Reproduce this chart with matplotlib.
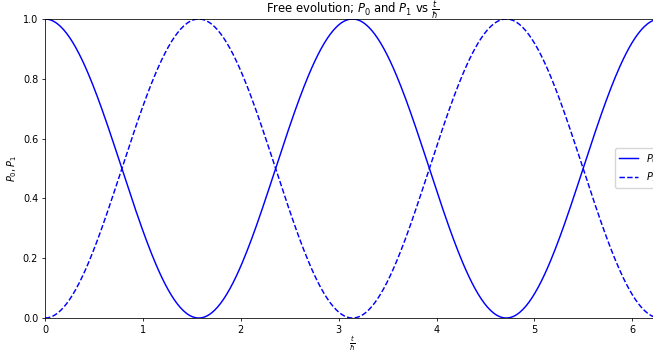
import numpy as np
import matplotlib
matplotlib.use("Agg")
import matplotlib.pyplot as plt

# Time axis in units of t/hbar and the free-evolution frequency
t_start, t_stop, n_samples = 0.0, 2 * np.pi, 400
omega = 1.0
t = np.linspace(t_start, t_stop, n_samples)

# Occupation probabilities of the two levels
P0 = np.cos(omega * t) ** 2
P1 = np.sin(omega * t) ** 2

series_labels = [r"$P_0$", r"$P_1$"]
title_text = r"Free evolution; $P_0$ and $P_1$ vs $\frac{t}{\hbar}$"
xlabel_text = r"$\frac{t}{\hbar}$"
ylabel_text = r"$P_0, P_1$"

s = 0.7  # overall scale of text and line weights
plt.rcParams.update({
    "font.size": 10 * s,
    "axes.linewidth": 0.8 * s,
    "xtick.major.size": 3.5 * s,
    "ytick.major.size": 3.5 * s,
    "xtick.major.width": 0.8 * s,
    "ytick.major.width": 0.8 * s,
    "xtick.major.pad": 3.5 * s,
    "ytick.major.pad": 3.5 * s,
    "legend.fontsize": 10 * s,
})

W, H = 653, 352
fig = plt.figure(figsize=(W / 100, H / 100), dpi=100)
ax = fig.add_axes([45 / W, 1 - 318 / H, (660 - 45) / W, (318 - 19) / H])

ax.plot(t, P0, "b-", lw=1.5 * s, label=series_labels[0])
ax.plot(t, P1, "b--", lw=1.5 * s, label=series_labels[1])

ax.set_xlim(t_start, t_stop)
ax.set_ylim(0, 1)
ax.set_xlabel(xlabel_text, labelpad=0)
ax.set_ylabel(ylabel_text, labelpad=4 * s)

# Title placed on a fixed baseline just above the axes
fig.text(352.5 / W, 1 - 14 / H, title_text, fontsize=12 * s,
         ha="center", va="baseline")

fig.legend(loc="center left", bbox_to_anchor=(610 / W, 1 - 168 / H),
           bbox_transform=fig.transFigure)

fig.savefig("out.png", dpi=100)
